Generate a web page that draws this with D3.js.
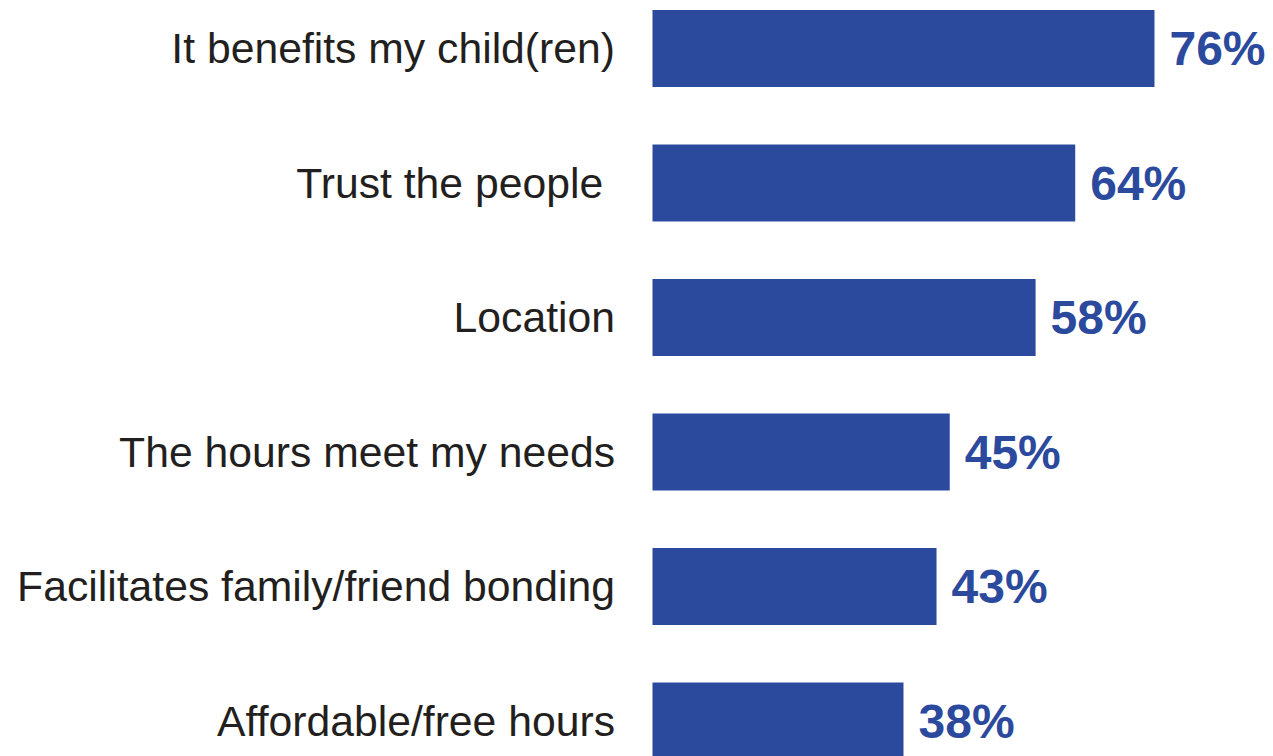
<!DOCTYPE html>
<html>
<head>
<meta charset="utf-8">
<script src="https://cdn.jsdelivr.net/npm/d3@7/dist/d3.min.js"></script>
<style>
  html, body { margin: 0; padding: 0; background: #ffffff; overflow: hidden; }
  svg { display: block; }
</style>
</head>
<body>
<svg id="chart" width="1273" height="756"></svg>
<script>
// Reasons for choosing a provider, share of respondents (%)
const categories = [
  "It benefits my child(ren)",
  "Trust the people ",
  "Location",
  "The hours meet my needs",
  "Facilitates family/friend bonding",
  "Affordable/free hours"
];
const values = [76, 64, 58, 45, 43, 38];

const svg = d3.select("#chart");
const barColor = "#2b4a9d";
const textColor = "#231f20";

const x = d3.scaleLinear().domain([0, 100]).range([652.5, 1313]);
const y = d3.scaleBand()
  .domain(categories)
  .range([10, 759.5])
  .paddingInner(0.4275)
  .paddingOuter(0);

const rows = categories.map((c, i) => ({ label: c, value: values[i] }));

// Bars
svg.append("g").selectAll("rect")
  .data(rows)
  .join("rect")
  .attr("x", x(0))
  .attr("y", d => y(d.label))
  .attr("width", d => x(d.value) - x(0))
  .attr("height", y.bandwidth())
  .attr("fill", barColor);

// Category labels, right-aligned against the bars
svg.append("g").selectAll("text")
  .data(rows)
  .join("text")
  .attr("x", 615)
  .attr("y", d => y(d.label) + y.bandwidth() / 2)
  .attr("dy", "0.35em")
  .attr("text-anchor", "end")
  .style("white-space", "pre")
  .attr("font-family", "'Liberation Sans', Arial, sans-serif")
  .attr("font-size", 42.7)
  .attr("fill", textColor)
  .text(d => d.label);

// Value labels at the end of each bar
svg.append("g").selectAll("text")
  .data(rows)
  .join("text")
  .attr("x", d => x(d.value) + 15)
  .attr("y", d => y(d.label) + y.bandwidth() / 2)
  .attr("dy", "0.35em")
  .attr("font-family", "'Liberation Sans', Arial, sans-serif")
  .attr("font-weight", "bold")
  .attr("font-size", 48)
  .attr("fill", barColor)
  .text(d => d.value + "%");
</script>
</body>
</html>
